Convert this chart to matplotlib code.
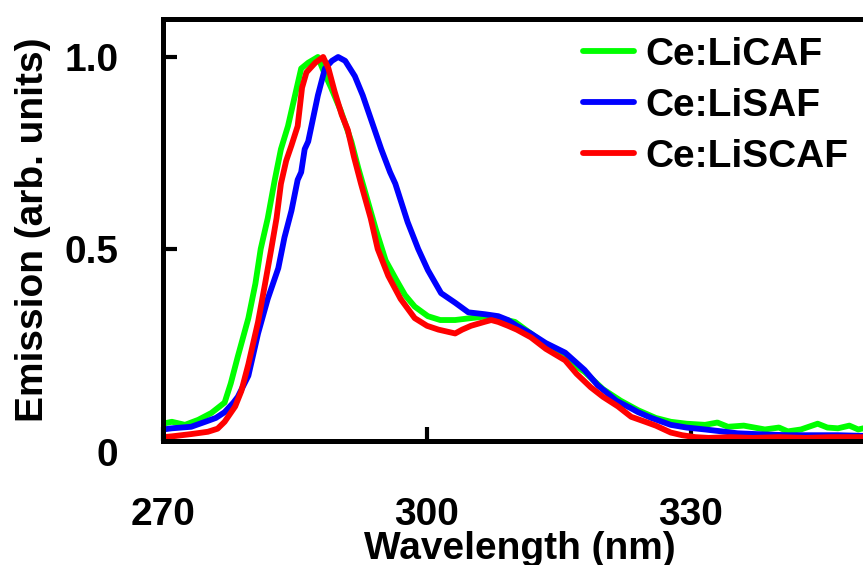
import matplotlib
matplotlib.use("Agg")
import matplotlib.pyplot as plt
import matplotlib.transforms as mtransforms

plt.rcParams['font.family'] = ['Liberation Sans', 'DejaVu Sans']
plt.rcParams['font.weight'] = 'bold'

# ---- data ----
licaf_x = [270, 271, 272.5, 274, 275.5, 277, 277.7, 278.5, 279.7, 280.5, 281.1, 281.9,
           282.7, 283.4, 284.2, 285, 285.7, 286.5, 287.6, 288.3, 289.1, 290.2, 291.4,
           292.2, 293.2, 294.2, 295.3, 296.5, 297.5, 298.6, 300.1, 301.5, 303.2, 305,
           306.9, 308.1, 310, 311.8, 313.5, 315.7, 317.9, 320, 322, 324, 326, 327.7,
           329.5, 331.6, 333, 334.2, 336, 338.4, 340, 341, 342.5, 344.4, 345.5, 346.7,
           348, 349, 350]
licaf_y = [0.045, 0.05, 0.042, 0.055, 0.073, 0.10, 0.15, 0.22, 0.32, 0.41, 0.50, 0.58,
           0.68, 0.76, 0.82, 0.90, 0.97, 0.985, 1.0, 0.96, 0.92, 0.86, 0.78,
           0.71, 0.63, 0.55, 0.47, 0.42, 0.38, 0.35, 0.325, 0.315, 0.315, 0.32,
           0.325, 0.32, 0.31, 0.28, 0.25, 0.215, 0.18, 0.135, 0.105, 0.08, 0.06, 0.05,
           0.045, 0.042, 0.048, 0.037, 0.04, 0.03, 0.035, 0.025, 0.03, 0.045, 0.035, 0.033,
           0.04, 0.03, 0.035]

lisaf_x = [270, 271, 273.2, 274.8, 276, 277, 278, 278.5, 279.7, 280.8, 281.9, 283.1,
           283.8, 284.6, 285.3, 285.7, 286.1, 286.5, 287.6, 288.4, 289.2, 289.9, 290.7,
           291.8, 292.7, 293.6, 294.8, 295.8, 296.4, 297.8, 299, 300.1, 301.6, 303.2,
           304.7, 306.6, 308.1, 309.2, 310.2, 311.8, 313.5, 315.7, 317.9, 319.4, 320.2,
           321.5, 323.2, 324, 325.5, 327.7, 329.5, 331.6, 333.5, 335.3, 338.4, 341, 344,
           346.7, 350]
lisaf_y = [0.03, 0.033, 0.037, 0.05, 0.06, 0.075, 0.10, 0.115, 0.17, 0.28, 0.37, 0.45,
           0.53, 0.60, 0.68, 0.70, 0.76, 0.78, 0.90, 0.97, 0.99, 1.0, 0.99,
           0.95, 0.90, 0.84, 0.76, 0.70, 0.67, 0.57, 0.50, 0.445, 0.385, 0.36,
           0.335, 0.33, 0.325, 0.315, 0.30, 0.28, 0.255, 0.23, 0.185, 0.145, 0.13,
           0.105, 0.085, 0.075, 0.06, 0.042, 0.035, 0.03, 0.025, 0.02, 0.017, 0.015, 0.015,
           0.015, 0.013]

liscaf_x = [270, 271, 273.2, 275.1, 276.2, 277, 278.2, 278.9, 279.7, 280.8, 281.6, 282.3,
            282.9, 283.4, 284, 284.6, 285.3, 285.8, 286.3, 287.3, 288.2, 288.8, 289.5,
            290.3, 291, 291.7, 292.5, 293.6, 294.4, 295.6, 297, 298.6, 300, 301.3, 303.2,
            304, 305, 306.5, 307.3, 308.1, 309.2, 310.2, 311.8, 313.5, 315.7, 317, 318.6,
            320, 321.7, 323.2, 324.8, 326, 327.7, 329, 330.5, 332, 334.5, 337, 340, 343,
            346, 350]
liscaf_y = [0.01, 0.012, 0.018, 0.024, 0.032, 0.05, 0.09, 0.13, 0.20, 0.31, 0.41, 0.50,
            0.58, 0.67, 0.73, 0.77, 0.82, 0.92, 0.96, 0.985, 1.0, 0.97, 0.91,
            0.85, 0.81, 0.74, 0.67, 0.58, 0.50, 0.43, 0.37, 0.32, 0.30, 0.29, 0.28,
            0.29, 0.30, 0.31, 0.315, 0.31, 0.30, 0.29, 0.27, 0.24, 0.21, 0.175, 0.14,
            0.115, 0.09, 0.063, 0.05, 0.04, 0.022, 0.015, 0.01, 0.008, 0.01, 0.008, 0.01, 0.008,
            0.01, 0.01]

series_labels = ["Ce:LiCAF", "Ce:LiSAF", "Ce:LiSCAF"]
series_colors = ["#00ff00", "#0000ff", "#ff0000"]
x_ticks = [270, 300, 330]
y_ticks = [0, 0.5, 1.0]
y_ticklabels = ["0", "0.5", "1.0"]

# ---- figure ----
fig = plt.figure(figsize=(8.63, 5.65), dpi=100)
ax = fig.add_axes([0.1889, 0.2195, 0.8157, 0.7476])

for xs, ys, lab, col in zip([licaf_x, lisaf_x, liscaf_x],
                            [licaf_y, lisaf_y, liscaf_y],
                            series_labels, series_colors):
    ax.plot(xs, ys, color=col, lw=4.2, label=lab,
            solid_capstyle='round', solid_joinstyle='round')

ax.set_xlim(270, 350)
ax.set_ylim(0, 1.1)

for s in ax.spines.values():
    s.set_linewidth(3.6)

ax.set_xticks(x_ticks)
ax.set_xticklabels([str(t) for t in x_ticks])
ax.set_yticks(y_ticks)
ax.set_yticklabels(y_ticklabels)
ax.tick_params(axis='both', direction='in', length=10, width=3, labelsize=28)
ax.tick_params(axis='x', pad=40)
ax.tick_params(axis='y', pad=32)

# shift the "0" label slightly down as in the reference
zero_lbl = ax.get_yticklabels()[0]
zero_lbl.set_transform(zero_lbl.get_transform() +
                       mtransforms.ScaledTranslation(0, -11 / 100, fig.dpi_scale_trans))

ax.set_xlabel("Wavelength (nm)", fontsize=28, fontweight='bold')
ax.set_ylabel("Emission (arb. units)", fontsize=28, fontweight='bold')
ax.xaxis.set_label_coords(0.507, -0.212)
ax.yaxis.set_label_coords(-0.159, 0.5)

leg = ax.legend(loc='upper left', bbox_to_anchor=(583 / 863, 1 - 37 / 565),
                bbox_transform=fig.transFigure, frameon=False, fontsize=28,
                handlelength=1.3, handletextpad=0.3, labelspacing=0.38,
                borderpad=0, borderaxespad=0)
for t in leg.get_texts():
    t.set_fontweight('bold')

fig.savefig("out.png", dpi=100)
